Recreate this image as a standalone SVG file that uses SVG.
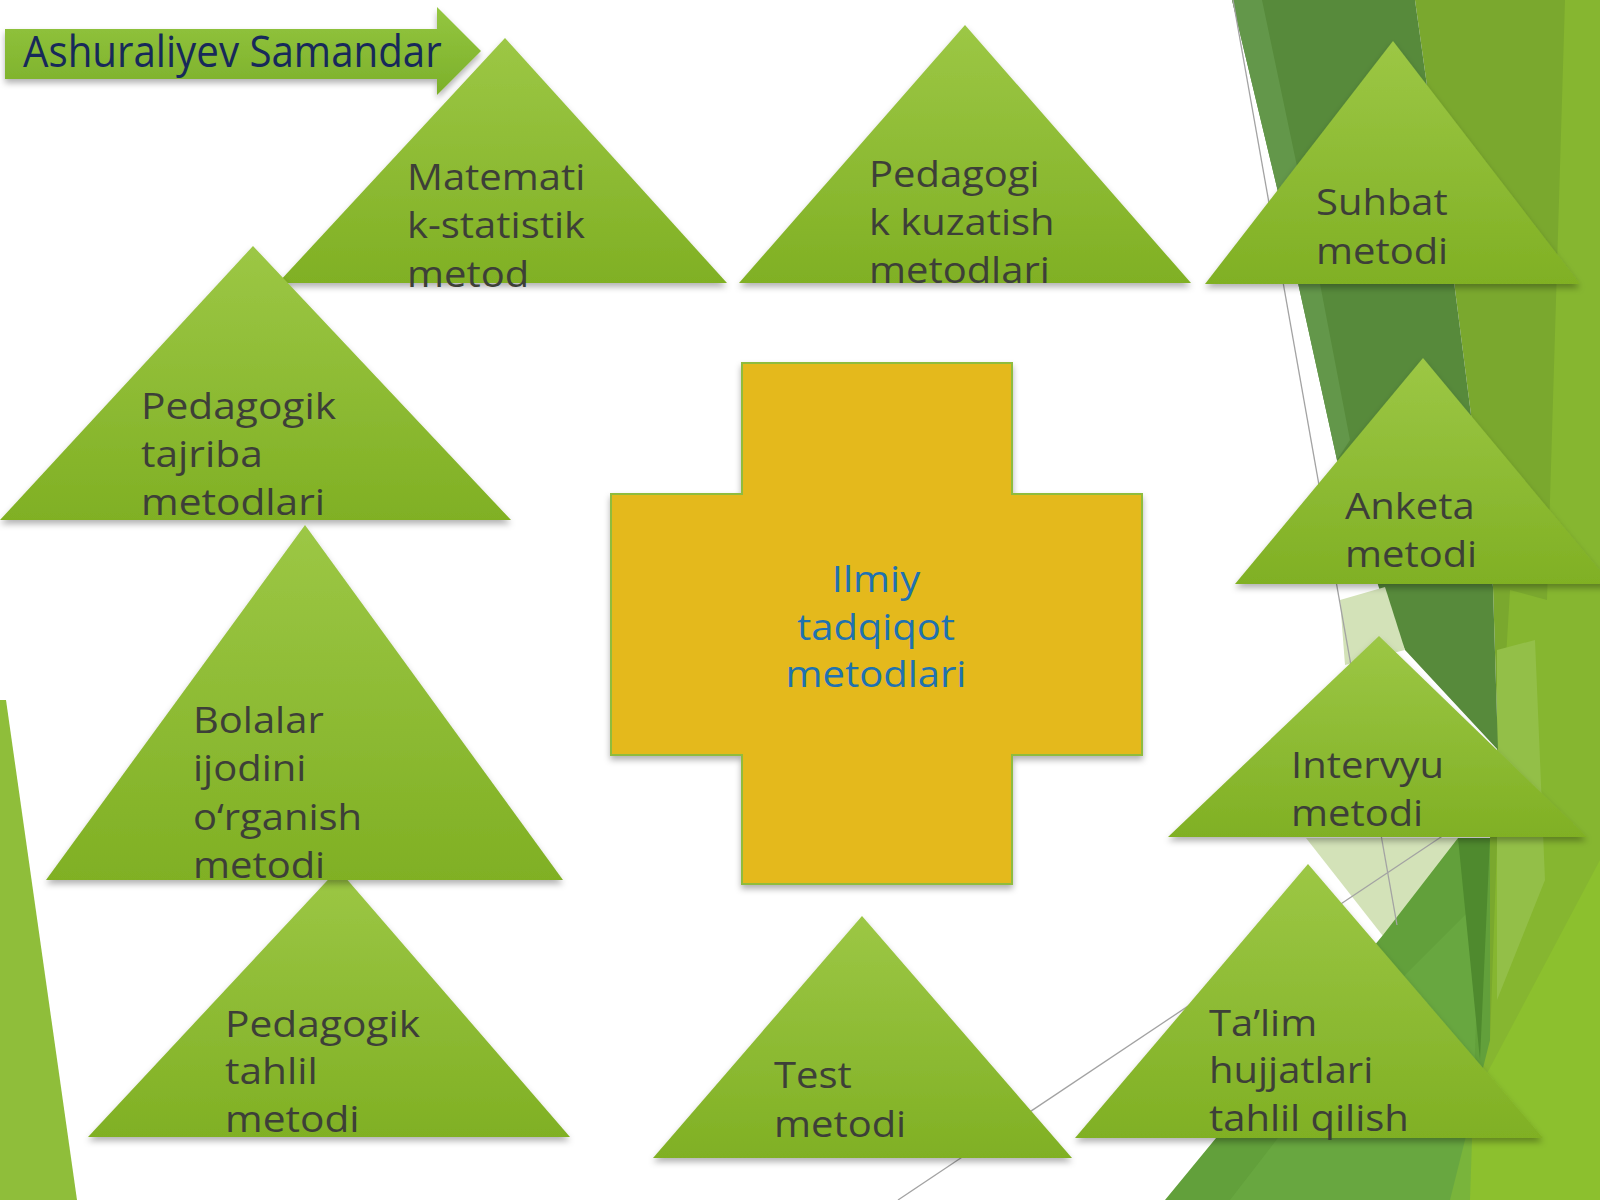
<svg xmlns="http://www.w3.org/2000/svg" width="1600" height="1200" viewBox="0 0 1600 1200">
<defs>
  <linearGradient id="gTri" x1="0" y1="0" x2="0" y2="1">
    <stop offset="0" stop-color="#9cc745"/>
    <stop offset="1" stop-color="#80b024"/>
  </linearGradient>
  <linearGradient id="gArrow" x1="0" y1="0" x2="0" y2="1">
    <stop offset="0" stop-color="#94c640"/>
    <stop offset="1" stop-color="#7cb02a"/>
  </linearGradient>
  <filter id="sh" x="-10%" y="-10%" width="120%" height="125%">
    <feDropShadow dx="0" dy="4" stdDeviation="3" flood-color="#000" flood-opacity="0.3"/>
  </filter>
  <style>
    .tri { fill: url(#gTri); filter: url(#sh); }
    .lbl { font-family: "Open Sans", "Noto Sans", "DejaVu Sans", sans-serif; font-size: 36px; fill: #3d3f38; }
    .ctr { font-family: "Open Sans", "Noto Sans", "DejaVu Sans", sans-serif; font-size: 36px; fill: #1f72b0; text-anchor: middle; }
    .ttl { font-family: "Open Sans", "Noto Sans", "DejaVu Sans", sans-serif; font-size: 44px; fill: #17295a; }
    .thin { stroke: #a3a3a3; stroke-width: 1.3; fill: none; }
  </style>
</defs>
<rect x="0" y="0" width="1600" height="1200" fill="#ffffff"/>

<!-- background decoration -->
<g id="background">
  <polygon points="0,700 6,700 77,1200 0,1200" fill="#8fbe3a"/>
  <polygon points="1415,0 1600,0 1600,1200 1450,1200 1490,838 1498,750 1493,587 1450,250" fill="#7aa82e"/>
  <polygon points="1565,0 1600,0 1600,1200 1420,1200 1490,1040 1500,760 1510,590 1547,600" fill="#86b630"/>
  <polygon points="1497,650 1535,640 1545,880 1497,1000" fill="#93bf48"/>
  <polygon points="1420,1200 1600,860 1600,1200" fill="#8cc02e"/>
  <polygon points="1232,0 1415,0 1450,250 1493,587 1498,750 1405,650 1383,600 1337,460 1278,192" fill="#578a3b"/>
  <polygon points="1232,0 1262,0 1302,190 1350,440 1337,460 1278,192" fill="#63974a"/>
  <polygon points="1340,600 1385,587 1405,650 1345,665" fill="#d3e2b8"/>
  <polygon points="1306,838 1460,838 1390,945" fill="#d3e2b8"/>
  <polygon points="1165,1200 1383,935 1458,838 1490,838 1490,1040 1450,1200" fill="#62a03b"/>
  <polygon points="1230,1200 1400,980 1480,900 1470,1200" fill="#6dab45" opacity="0.6"/>
  <polygon points="1458,838 1490,838 1480,1060" fill="#4f8a2e"/>
</g>

<g id="connectors">
  <line class="thin" x1="1233" y1="0" x2="1397" y2="925"/>
  <line class="thin" x1="898" y1="1200" x2="1450" y2="831"/>
</g>

<g id="header">
  <polygon points="5,29 437,29 437,7 481,51 437,95 437,79 5,79" fill="url(#gArrow)" filter="url(#sh)"/>
  <text class="ttl" transform="translate(23,67) scale(0.915,1)">Ashuraliyev Samandar</text>
</g>

<g id="node-matematik">
  <polygon class="tri" points="505,38 727,283 278,283"/>
  <text class="lbl" transform="translate(407,190) scale(1.11,1)"><tspan x="0" y="0">Matemati</tspan><tspan x="0" y="48">k-statistik</tspan><tspan x="0" y="97">metod</tspan></text>
</g>

<g id="node-kuzatish">
  <polygon class="tri" points="965,25 1191,283 739,283"/>
  <text class="lbl" transform="translate(869,187) scale(1.11,1)"><tspan x="0" y="0">Pedagogi</tspan><tspan x="0" y="48">k kuzatish</tspan><tspan x="0" y="96">metodlari</tspan></text>
</g>

<g id="node-suhbat">
  <polygon class="tri" points="1393,41 1580,284 1205,284"/>
  <text class="lbl" transform="translate(1316,215) scale(1.11,1)"><tspan x="0" y="0">Suhbat</tspan><tspan x="0" y="49">metodi</tspan></text>
</g>

<g id="node-tajriba">
  <polygon class="tri" points="253,246 511,520 0,520"/>
  <text class="lbl" transform="translate(141,419) scale(1.13,1)"><tspan x="0" y="0">Pedagogik</tspan><tspan x="0" y="48">tajriba</tspan><tspan x="0" y="96">metodlari</tspan></text>
</g>

<g id="node-tahlil">
  <polygon class="tri" points="338,869 570,1137 88,1137"/>
  <text class="lbl" transform="translate(225,1037) scale(1.13,1)"><tspan x="0" y="0">Pedagogik</tspan><tspan x="0" y="47">tahlil</tspan><tspan x="0" y="95">metodi</tspan></text>
</g>

<g id="node-bolalar">
  <polygon class="tri" points="305,525 563,880 46,880"/>
  <text class="lbl" transform="translate(193,733) scale(1.11,1)"><tspan x="0" y="0">Bolalar</tspan><tspan x="0" y="48">ijodini</tspan><tspan x="0" y="97">o‘rganish</tspan><tspan x="0" y="145">metodi</tspan></text>
</g>

<g id="node-test">
  <polygon class="tri" points="862,916 1072,1158 653,1158"/>
  <text class="lbl" transform="translate(774,1088) scale(1.11,1)"><tspan x="0" y="0">Test</tspan><tspan x="0" y="49">metodi</tspan></text>
</g>

<g id="node-anketa">
  <polygon class="tri" points="1423,358 1611,584 1235,584"/>
  <text class="lbl" transform="translate(1345,519) scale(1.11,1)"><tspan x="0" y="0">Anketa</tspan><tspan x="0" y="48">metodi</tspan></text>
</g>

<g id="node-intervyu">
  <polygon class="tri" points="1379,636 1587,837 1168,837"/>
  <text class="lbl" transform="translate(1291,778) scale(1.11,1)"><tspan x="0" y="0">Intervyu</tspan><tspan x="0" y="48">metodi</tspan></text>
</g>

<g id="node-talim">
  <polygon class="tri" points="1308,864 1543,1138 1075,1138"/>
  <text class="lbl" transform="translate(1209,1036) scale(1.11,1)"><tspan x="0" y="0">Ta’lim</tspan><tspan x="0" y="47">hujjatlari</tspan><tspan x="0" y="95">tahlil qilish</tspan></text>
</g>

<g id="node-center">
  <polygon points="742,363 1012,363 1012,494 1142,494 1142,755 1012,755 1012,884 742,884 742,755 611,755 611,494 742,494" fill="#e4b91f" stroke="#8fbc3c" stroke-width="2" filter="url(#sh)"/>
  <text class="ctr" transform="translate(876,592) scale(1.11,1)"><tspan x="0" y="0">Ilmiy</tspan><tspan x="0" y="48">tadqiqot</tspan><tspan x="0" y="95">metodlari</tspan></text>
</g>
</svg>
